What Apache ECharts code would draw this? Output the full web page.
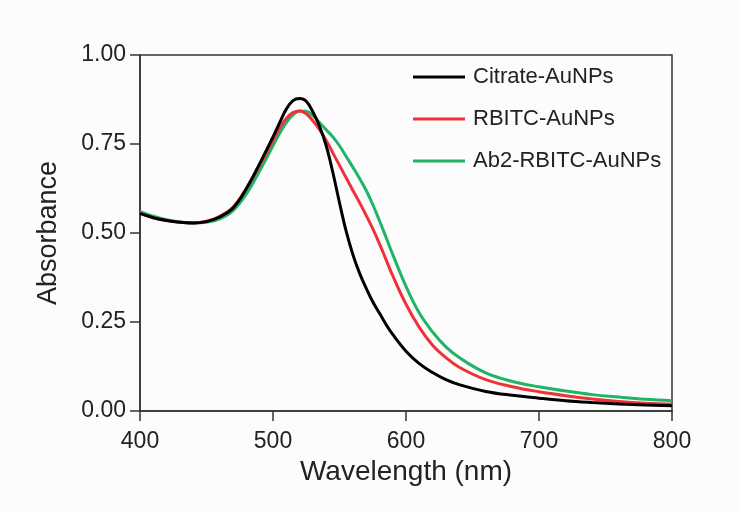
<!DOCTYPE html>
<html>
<head>
<meta charset="utf-8">
<script src="https://cdn.jsdelivr.net/npm/echarts@6/dist/echarts.min.js"></script>
<style>html,body{margin:0;padding:0;background:#fcfcfc;}#c{width:739px;height:511px;}</style>
</head>
<body>
<div id="c"></div>
<script>
const wavelengths = [400,410,420,430,440,450,460,470,480,490,500,505,510,515,520,525,530,535,540,545,550,555,560,565,570,575,580,585,590,600,610,620,630,640,660,680,700,720,740,760,780,800];
const citrate = [0.555,0.543,0.535,0.530,0.528,0.532,0.545,0.570,0.625,0.695,0.770,0.810,0.848,0.872,0.878,0.870,0.840,0.800,0.745,0.670,0.585,0.505,0.440,0.388,0.345,0.307,0.275,0.243,0.215,0.168,0.133,0.108,0.088,0.074,0.055,0.044,0.036,0.029,0.024,0.020,0.017,0.015];
const rbitc = [0.555,0.543,0.535,0.530,0.528,0.533,0.547,0.573,0.625,0.690,0.760,0.795,0.822,0.838,0.843,0.835,0.815,0.790,0.760,0.725,0.690,0.655,0.620,0.586,0.550,0.512,0.470,0.425,0.380,0.300,0.235,0.185,0.150,0.123,0.088,0.068,0.054,0.043,0.034,0.027,0.022,0.019];
const ab2 = [0.560,0.547,0.537,0.531,0.528,0.530,0.540,0.563,0.610,0.675,0.745,0.780,0.810,0.832,0.843,0.842,0.830,0.810,0.790,0.770,0.745,0.715,0.685,0.654,0.620,0.580,0.535,0.488,0.440,0.350,0.275,0.222,0.180,0.150,0.107,0.083,0.068,0.056,0.046,0.039,0.033,0.029];
const seriesNames = ['Citrate-AuNPs','RBITC-AuNPs','Ab2-RBITC-AuNPs'];
const colors = ['#000000','#ee3238','#1fb466'];
const xTicks = [400,500,600,700,800];
const yTicks = [0,0.25,0.5,0.75,1.0];

const pair = arr => wavelengths.map((w,i)=>[w,arr[i]]);
const all = [citrate, rbitc, ab2];
const font = 'Liberation Sans, Arial, sans-serif';
const chart = echarts.init(document.getElementById('c'));
chart.setOption({
  backgroundColor: '#fcfcfc',
  animation: false,
  grid: {left:140, right:67, top:55, bottom:100, show:true, borderColor:'#333', borderWidth:1.5},
  legend: {
    orient:'vertical', left:413, top:66, padding:0, itemWidth:52, itemHeight:3, itemGap:20, icon:'rect',
    data: seriesNames,
    textStyle:{fontFamily:font, fontSize:22, color:'#222', lineHeight:22, padding:[0,0,0,3]}
  },
  xAxis: {
    type:'value', min:xTicks[0], max:xTicks[xTicks.length-1], interval:100,
    name:'Wavelength (nm)', nameLocation:'middle', nameGap:43,
    nameTextStyle:{fontFamily:font, fontSize:28, color:'#222'},
    axisLine:{show:true, lineStyle:{color:'#333', width:1.5}},
    axisTick:{show:true, inside:false, length:10, lineStyle:{color:'#333', width:1.5}},
    axisLabel:{fontFamily:font, fontSize:23, color:'#222', margin:19},
    splitLine:{show:false}
  },
  yAxis: {
    type:'value', min:yTicks[0], max:yTicks[yTicks.length-1], interval:0.25,
    name:'Absorbance', nameLocation:'middle', nameGap:78,
    nameTextStyle:{fontFamily:font, fontSize:27, color:'#222'},
    axisLine:{show:true, lineStyle:{color:'#333', width:1.5}},
    axisTick:{show:true, inside:false, length:10, lineStyle:{color:'#333', width:1.5}},
    axisLabel:{fontFamily:font, fontSize:23, color:'#222', margin:14, formatter: v => v.toFixed(2)},
    splitLine:{show:false}
  },
  series: all.map((arr,i)=>({
    name: seriesNames[i], type:'line', data: pair(arr), smooth:0.4, symbol:'none',
    lineStyle:{color:colors[i], width:3}, itemStyle:{color:colors[i]}, z: 3-i
  }))
});
</script>
</body>
</html>
